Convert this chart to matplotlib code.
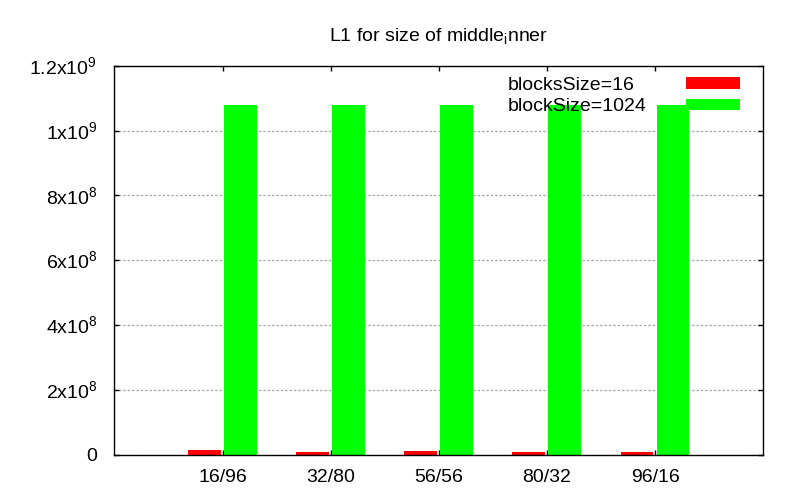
import numpy as np
import matplotlib
matplotlib.use("Agg")
import matplotlib.pyplot as plt

plt.rcParams['font.family'] = ['Liberation Sans', 'DejaVu Sans']
plt.rcParams['mathtext.fontset'] = 'custom'
plt.rcParams['mathtext.rm'] = 'Liberation Sans'

categories = ["16/96", "32/80", "56/56", "80/32", "96/16"]
block16 = [1.5e7, 9.0e6, 1.2e7, 9.0e6, 9.0e6]
block1024 = [1.08e9, 1.08e9, 1.08e9, 1.08e9, 1.08e9]
series_labels = ["blocksSize=16", "blockSize=1024"]
yticks = [0, 2e8, 4e8, 6e8, 8e8, 1e9, 1.2e9]
ytick_labels = ["0", r"2x10$^{\mathregular{8}}$", r"4x10$^{\mathregular{8}}$",
                r"6x10$^{\mathregular{8}}$", r"8x10$^{\mathregular{8}}$",
                r"1x10$^{\mathregular{9}}$", r"1.2x10$^{\mathregular{9}}$"]
title = r"L1 for size of middle$_{\mathregular{i}}$nner"

fig = plt.figure(figsize=(8, 5), dpi=100)
ax = fig.add_axes([0.143, 0.0906, 0.811, 0.7780])

x = np.arange(len(categories))
ax.bar(x - 0.167, block16, width=0.305, color='#ff0000', label=series_labels[0], zorder=2)
ax.bar(x + 0.165, block1024, width=0.302, color='#00ff00', label=series_labels[1], zorder=2)

ax.set_xlim(-1, 5)
ax.set_ylim(0, 1.2e9)
ax.set_xticks(x)
ax.set_xticklabels(categories, fontsize=14)
ax.set_yticks(yticks)
ax.set_yticklabels(ytick_labels, fontsize=14)
ax.tick_params(axis='both', direction='in', length=3.6, width=1.0, top=True, right=True)
ax.tick_params(axis='x', pad=10)
ax.tick_params(axis='y', pad=12.5)

ax.yaxis.grid(True, color='#a8a8a8', linewidth=0.9, dashes=(2, 1.5), zorder=1)
ax.set_axisbelow(True)
for s in ax.spines.values():
    s.set_linewidth(1.0)
    s.set_zorder(3)

ax.set_title(title, fontsize=14, pad=17)

leg = ax.legend(loc='upper right', bbox_to_anchor=(0.964, 0.972), frameon=False,
                markerfirst=False, borderaxespad=0, borderpad=0, fontsize=14,
                handlelength=2.78, handleheight=0.55, handletextpad=2.0, labelspacing=0.25)

# gnuplot-style: left-align the legend texts while keeping the samples aligned
fig.canvas.draw()
texts = leg.get_texts()
widths = [t.get_window_extent().width for t in texts]
wmax = max(widths)
for t, w in zip(texts, widths):
    t.set_x(t.get_position()[0] - (wmax - w))

fig.savefig("out.png", dpi=100)
